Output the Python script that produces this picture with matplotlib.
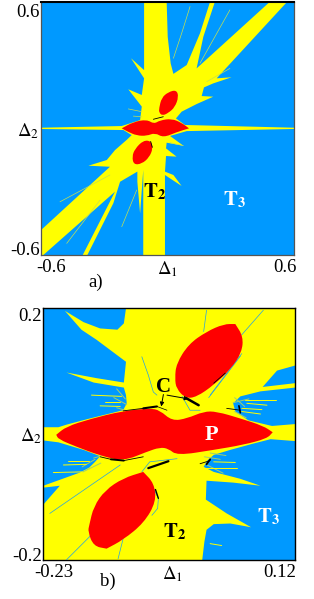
# -*- coding: utf-8 -*-
"""Parameter planes (Delta1, Delta2), panels a) and b)"""
import matplotlib
matplotlib.use("Agg")
import matplotlib.pyplot as plt
from matplotlib.path import Path
from matplotlib.patches import PathPatch
from matplotlib.transforms import ScaledTranslation

BLUE = "#0099ff"
YELLOW = "#ffff00"
RED = "#ff0000"
FEATHER = "#9fd070"

## Panel a) region outlines (Delta1, Delta2)
a_yellow = [(-0.111,0.600),(-0.004,0.600),(0.001,0.434),(0.015,0.308),(0.028,0.258),(0.091,0.300),(0.154,0.450),
            (0.202,0.600),(0.225,0.600),(0.170,0.434),(0.138,0.284),(0.486,0.600),(0.568,0.600),(0.233,0.237),
            (0.304,0.242),(0.217,0.213),(0.173,0.194),(0.162,0.153),(0.217,0.150),(0.138,0.115),(0.067,0.079),
            (0.040,0.047),(0.083,0.016),(0.600,0.003),(0.600,-0.003),(0.091,-0.013),(0.012,-0.036),(0.075,-0.082),
            (-0.004,-0.068),(-0.007,-0.095),(0.043,-0.134),(-0.007,-0.131),(-0.012,-0.205),(0.028,-0.221),
            (0.067,-0.273),(0.012,-0.237),(-0.012,-0.221),(-0.012,-0.600),(-0.115,-0.600),(-0.115,-0.197),
            (-0.130,-0.403),(-0.143,-0.253),(-0.143,-0.205),(-0.225,-0.253),(-0.257,-0.355),(-0.380,-0.600),
            (-0.402,-0.600),(-0.249,-0.300),(-0.589,-0.600),(-0.600,-0.600),(-0.600,-0.482),(-0.273,-0.182),
            (-0.375,-0.177),(-0.288,-0.150),(-0.249,-0.103),(-0.194,-0.055),(-0.170,-0.032),(-0.209,-0.008),
            (-0.600,-0.003),(-0.600,0.003),(-0.217,0.011),(-0.130,0.039),(-0.122,0.103),(-0.186,0.185),
            (-0.122,0.158),(-0.111,0.237),(-0.173,0.332),(-0.111,0.276)]
a_red_mid = [(-0.217,0.0),(-0.217,0.0),(-0.162,0.030),(-0.099,0.042),(-0.064,0.021),(-0.036,0.038),(0.020,0.046),(0.067,0.026),
             (0.102,0.0),(0.102,0.0),(0.043,-0.018),(-0.020,-0.044),(-0.059,-0.021),(-0.099,-0.036),(-0.146,-0.034),(-0.186,-0.017)]
a_red_up = [(-0.040,0.095),(-0.028,0.145),(0.004,0.172),(0.042,0.182),(0.053,0.150),(0.035,0.100),(0.004,0.073),
            (-0.024,0.060),(-0.040,0.075)]
a_red_low = [(-0.168,-0.134),(-0.155,-0.098),(-0.115,-0.057),(-0.078,-0.060),(-0.069,-0.095),(-0.087,-0.138),
             (-0.122,-0.168),(-0.160,-0.172)]
a_yellow_streaks = [[(0.107,0.577),(0.067,0.450),(0.028,0.332)],
                    [(0.296,0.561),(0.154,0.308)],
                    [(0.296,0.284),(0.186,0.221)],
                    [(-0.478,-0.545),(-0.320,-0.340)],
                    [(-0.217,-0.466),(-0.146,-0.292)],
                    [(-0.510,-0.348),(-0.273,-0.221)],
                    [(-0.186,0.092),(-0.122,0.079)],
                    [(-0.162,0.058),(-0.122,0.055)],
                    [(0.012,-0.068),(0.075,-0.082)]]
a_black = [[(-0.067,0.043),(-0.020,0.055)],
           [(-0.080,-0.062),(-0.072,-0.090)]]

## Panel b) region outlines
b_blue = [
    [(-0.230,0.200),(-0.115,0.200),(-0.118,0.176),(-0.127,0.166),(-0.151,0.168),(-0.174,0.178),(-0.200,0.196),
     (-0.177,0.166),(-0.156,0.150),(-0.115,0.115),(-0.118,0.082),(-0.156,0.089),(-0.198,0.098),(-0.160,0.082),
     (-0.118,0.074),(-0.115,0.062),(-0.114,0.049),(-0.119,0.038),(-0.165,0.025),(-0.198,0.015),(-0.209,0.011),
     (-0.230,0.011)],
    [(-0.230,-0.010),(-0.209,-0.013),(-0.174,-0.025),(-0.151,-0.035),(-0.158,-0.044),(-0.166,-0.053),
     (-0.179,-0.061),(-0.230,-0.082)],
    [(-0.230,-0.085),(-0.207,-0.082),(-0.230,-0.112)],
    [(0.075,0.075),(0.095,0.101),(0.120,0.109),(0.120,0.081)],
    [(0.044,0.060),(0.072,0.068),(0.120,0.074),(0.120,0.016),(0.088,0.013),(0.055,0.022),(0.037,0.036),(0.034,0.049)],
    [(0.120,-0.011),(0.086,-0.008),(0.062,-0.015),(0.030,-0.025),(0.007,-0.033),(-0.002,-0.042),(-0.007,-0.052),
     (0.007,-0.060),(0.044,-0.071),(0.072,-0.082),(0.034,-0.077),(-0.003,-0.074),(-0.004,-0.104),(0.025,-0.126),
     (0.059,-0.148),(0.030,-0.142),(0.007,-0.143),(-0.003,-0.152),(-0.006,-0.171),(-0.009,-0.200),(0.120,-0.200)],
]
b_red_mid = [(-0.212,-0.001),(-0.212,-0.001),(-0.198,0.012),(-0.165,0.024),(-0.119,0.037),(-0.082,0.041),(-0.068,0.038),(-0.051,0.021),
             (-0.030,0.025),(-0.007,0.036),(0.011,0.036),(0.044,0.025),(0.076,0.013),(0.089,0.003),(0.089,0.003),(0.081,-0.007),
             (0.048,-0.017),(0.007,-0.025),(-0.044,-0.034),(-0.056,-0.023),(-0.068,-0.021),(-0.086,-0.028),
             (-0.119,-0.043),(-0.151,-0.034),(-0.184,-0.020),(-0.209,-0.008)]
b_red_up = [(-0.047,0.089),(-0.045,0.112),(-0.028,0.143),(-0.003,0.163),(0.021,0.175),(0.037,0.175),(0.037,0.175),
            (0.048,0.155),(0.046,0.130),(0.031,0.104),(0.007,0.078),(-0.017,0.059),(-0.032,0.057),(-0.045,0.072)]
b_red_low = [(-0.166,-0.144),(-0.160,-0.115),(-0.144,-0.089),(-0.119,-0.070),(-0.091,-0.060),(-0.091,-0.060),
             (-0.076,-0.078),(-0.073,-0.107),(-0.090,-0.141),(-0.119,-0.168),(-0.142,-0.182),(-0.142,-0.182),
             (-0.160,-0.178),(-0.168,-0.155)]
b_yellow_streaks = [[(-0.163,0.062),(-0.121,0.060)],[(-0.144,0.051),(-0.123,0.051)],[(-0.151,0.045),(-0.123,0.044)],
                    [(-0.195,-0.043),(-0.167,-0.043)],[(-0.202,-0.049),(-0.170,-0.048)],[(-0.216,-0.061),(-0.177,-0.060)],
                    [(0.051,0.055),(0.094,0.055)],[(0.053,0.049),(0.081,0.046)],[(0.046,0.041),(0.074,0.039)],
                    [(0.046,0.036),(0.072,0.032)],[(-0.007,-0.054),(0.039,-0.054)],[(0.007,-0.044),(0.037,-0.045)],
                    [(0.002,-0.174),(0.018,-0.177)]]
b_feather = [[(-0.128,0.072),(-0.116,0.056)],[(-0.132,0.058),(-0.114,0.047)],[(-0.128,0.042),(-0.116,0.038)],
             [(0.036,0.058),(0.050,0.044)],[(0.034,0.050),(0.056,0.056)],[(0.036,0.036),(0.052,0.026)],
             [(-0.160,-0.038),(-0.148,-0.034)],[(-0.176,-0.052),(-0.158,-0.040)],[(-0.175,-0.060),(-0.150,-0.046)],
             [(-0.006,-0.036),(0.016,-0.040)],[(-0.004,-0.048),(0.020,-0.062)],[(0.002,-0.030),(0.024,-0.034)]]
b_blue_lines = [[(-0.003,0.197),(-0.007,0.163)],
                [(0.076,0.197),(0.046,0.158)],
                [(0.046,0.128),(0.002,0.062)],
                [(0.044,0.124),(0.000,0.058)],
                [(-0.093,0.123),(-0.084,0.094),(-0.077,0.067),(-0.072,0.062)],
                [(-0.221,-0.126),(-0.123,-0.049)],
                [(-0.198,-0.200),(-0.163,-0.160)],
                [(-0.126,-0.198),(-0.119,-0.166)],
                [(-0.079,-0.081),(-0.070,-0.102),(-0.071,-0.118),(-0.079,-0.129)],
                [(-0.037,0.060),(-0.026,0.038),(-0.012,0.038)],
                [(-0.093,-0.060),(-0.082,-0.044),(-0.044,-0.039)]]
b_black = [([(-0.031,0.057),(-0.014,0.046)], 1.8),
           ([(-0.084,-0.054),(-0.056,-0.043)], 1.6),
           ([(-0.119,0.037),(-0.091,0.041)], 0.6),
           ([(-0.091,0.041),(-0.072,0.044)], 1.5),
           ([(-0.072,0.044),(-0.058,0.038)], 0.5),
           ([(-0.151,-0.036),(-0.136,-0.040)], 0.6),
           ([(-0.136,-0.040),(-0.118,-0.042)], 1.4),
           ([(-0.118,-0.042),(-0.091,-0.036)], 0.6),
           ([(0.025,0.041),(0.044,0.038)], 0.6),
           ([(0.042,0.045),(0.044,0.034)], 1.2),
           ([(-0.012,-0.047),(0.002,-0.042)], 0.6),
           ([(-0.003,-0.048),(0.002,-0.040)], 1.3),
           ([(0.007,0.081),(0.023,0.097)], 0.6),
           ([(-0.074,-0.088),(-0.070,-0.102)], 1.0)]
b_arrow_tails = [(-0.063,0.063),(-0.058,0.062)]
b_arrow_heads = [(-0.066,0.044),(-0.028,0.056)]

W, H = 314.0, 599.0

plt.rcParams['font.family'] = ['Liberation Serif', 'DejaVu Serif']
plt.rcParams['mathtext.fontset'] = 'stix'
plt.rcParams['font.size'] = 13.5


def shift(label, fig, dx, dy):
    """Tick-Label um dx, dy Pixel verschieben"""
    label.set_transform(label.get_transform() + ScaledTranslation(dx / fig.dpi, dy / fig.dpi, fig.dpi_scale_trans))


def make_axes(fig, left, right, top, bottom, xlim, ylim, xticks, xlabels, yticks, ylabels):
    """Achse anlegen, Masse in Pixel"""
    ax = fig.add_axes([left / W, 1 - bottom / H, (right - left) / W, (bottom - top) / H])
    ax.set_xlim(xlim)
    ax.set_ylim(ylim)
    ax.set_xticks(xticks, xlabels)
    ax.set_yticks(yticks, ylabels)
    ax.tick_params(length=0)
    ax.tick_params(axis='x', pad=3)
    ax.tick_params(axis='y', pad=1)
    xt = ax.get_xticklabels()
    xt[0].set_ha('left')
    xt[-1].set_ha('right')
    yt = ax.get_yticklabels()
    yt[0].set_va('bottom')
    yt[-1].set_va('top')
    return ax


def fill(ax, pts, color, z):
    ax.fill([p[0] for p in pts], [p[1] for p in pts], color=color, lw=0, zorder=z)


def fill_smooth(ax, pts, color, z):
    """Geschlossene Kurve, Polygonpunkte sind Kontrollpunkte"""
    mids = [((pts[i][0] + pts[(i + 1) % len(pts)][0]) / 2, (pts[i][1] + pts[(i + 1) % len(pts)][1]) / 2)
            for i in range(len(pts))]
    verts = [mids[-1]]
    codes = [Path.MOVETO]
    for i in range(len(pts)):
        verts += [pts[i], mids[i]]
        codes += [Path.CURVE3, Path.CURVE3]
    ax.add_patch(PathPatch(Path(verts, codes), facecolor=color, lw=0, zorder=z))


def lines(ax, segs, color, lw, z):
    for s in segs:
        ax.plot([p[0] for p in s], [p[1] for p in s], color=color, lw=lw, zorder=z, solid_capstyle='round')


fig = plt.figure(figsize=(3.14, 5.99), dpi=100)

# Panel a)
ax1 = make_axes(fig, 41, 294, 1.7, 255, (-0.6, 0.6), (-0.6, 0.6),
                [-0.6, 0.0, 0.6], ["-0.6", r"$\Delta_1$", "0.6"],
                [-0.6, 0.0, 0.6], ["-0.6", r"$\Delta_2$", "0.6"])
ax1.set_facecolor(BLUE)
fill(ax1, a_yellow, YELLOW, 2)
lines(ax1, a_yellow_streaks, "#c4e050", 0.5, 3)
fill_smooth(ax1, a_red_mid, RED, 4)
fill_smooth(ax1, a_red_up, RED, 4)
fill_smooth(ax1, a_red_low, RED, 4)
lines(ax1, a_black, "black", 0.6, 5)
ax1.text(-0.06, -0.30, r"$\mathbf{T}_\mathbf{2}$", color="black", fontsize=15, ha='center', va='center', zorder=6)
ax1.text(0.32, -0.34, r"$\mathbf{T}_\mathbf{3}$", color="white", fontsize=15, ha='center', va='center', zorder=6)
ax1.text(0.215, -0.108, "a)", transform=ax1.transAxes, fontsize=13.5, ha='center', va='center')
for sp in ax1.spines.values():
    sp.set_color("#555555")
    sp.set_linewidth(0.9)
ax1.spines['top'].set_color("black")
ax1.spines['top'].set_linewidth(1.5)
shift(ax1.get_xticklabels()[0], fig, -5, 0)
shift(ax1.get_xticklabels()[-1], fig, 3, 0)
shift(ax1.get_yticklabels()[0], fig, 0, -4)
shift(ax1.get_yticklabels()[-1], fig, 0, -2)

# Panel b)
ax2 = make_axes(fig, 43.3, 295, 308.3, 560, (-0.23, 0.12), (-0.2, 0.2),
                [-0.23, -0.05, 0.12], ["-0.23", r"$\Delta_1$", "0.12"],
                [-0.2, 0.0, 0.2], ["-0.2", r"$\Delta_2$", "0.2"])
ax2.set_facecolor(YELLOW)
for poly in b_blue:
    fill(ax2, poly, BLUE, 2)
lines(ax2, b_feather, FEATHER, 0.7, 3)
lines(ax2, b_yellow_streaks, YELLOW, 0.7, 3)
lines(ax2, b_blue_lines, "#22a0e8", 0.5, 3)
fill_smooth(ax2, b_red_mid, RED, 4)
fill_smooth(ax2, b_red_up, RED, 4)
fill_smooth(ax2, b_red_low, RED, 4)
for seg, lw in b_black:
    lines(ax2, [seg], "black", lw, 5)
ax2.text(-0.063, 0.0755, "C", fontsize=15, fontweight='bold', ha='center', va='center', zorder=7)
for tail, head in zip(b_arrow_tails, b_arrow_heads):
    ax2.annotate("", xy=head, xytext=tail, zorder=7,
                 arrowprops=dict(arrowstyle='-|>', color='black', lw=0.7, mutation_scale=6, shrinkA=0, shrinkB=0))
ax2.text(0.004, -0.001, "P", color="white", fontsize=16, fontweight='bold', ha='center', va='center', zorder=7)
ax2.text(-0.047, -0.155, r"$\mathbf{T}_\mathbf{2}$", color="black", fontsize=15, ha='center', va='center', zorder=7)
ax2.text(0.083, -0.131, r"$\mathbf{T}_\mathbf{3}$", color="white", fontsize=15, ha='center', va='center', zorder=7)
ax2.text(0.255, -0.085, "b)", transform=ax2.transAxes, fontsize=13.5, ha='center', va='center')
for sp in ax2.spines.values():
    sp.set_color("black")
    sp.set_linewidth(1.0)
shift(ax2.get_xticklabels()[0], fig, -9, 0)
shift(ax2.get_xticklabels()[-1], fig, 1, 0)
shift(ax2.get_yticklabels()[0], fig, 0, -5)

plt.savefig("out.png", dpi=100)
